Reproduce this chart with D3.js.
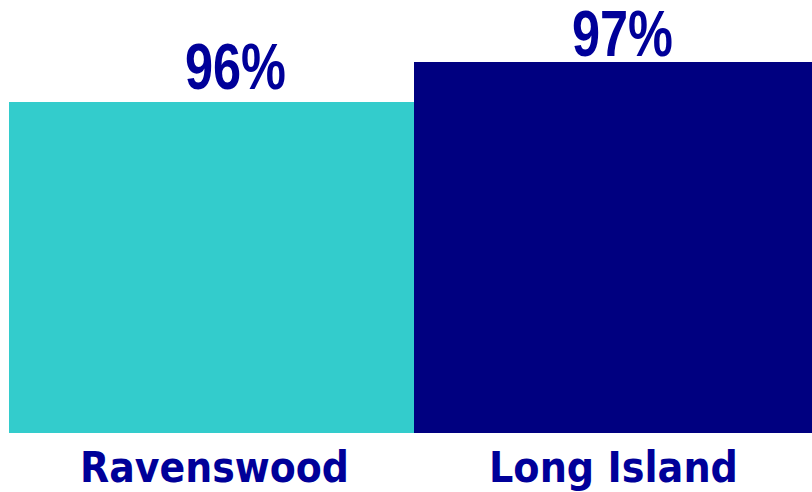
<!DOCTYPE html>
<html><head><meta charset="utf-8">
<script src="https://cdn.jsdelivr.net/npm/d3@7"></script>
<style>html,body{margin:0;padding:0;background:#fff;overflow:hidden}</style>
</head><body>
<script>
const categories = ["Ravenswood", "Long Island"];
const values = [96, 97];
const valueLabels = ["96%", "97%"];
const barColors = ["#33CCCC", "#000080"];

const W = 812, H = 492;
const svg = d3.select("body").append("svg").attr("width", W).attr("height", H);

const x = d3.scaleBand().domain(categories).range([9, 819]).padding(0);
const y = d3.scaleLinear().domain([87.725, 98]).range([433, 22]);

// layout nudges for value labels (horizontal, vertical gap above bar)
const labelDx = [24, 6];
const labelGap = [13, 6];

svg.selectAll("rect.bar").data(categories).join("rect")
  .attr("class", "bar")
  .attr("x", d => x(d))
  .attr("width", x.bandwidth())
  .attr("y", (d, i) => y(values[i]))
  .attr("height", (d, i) => y.range()[0] - y(values[i]))
  .attr("fill", (d, i) => barColors[i]);

svg.selectAll("text.val").data(categories).join("text")
  .attr("class", "val")
  .attr("x", (d, i) => x(d) + 405 / 2 + labelDx[i])
  .attr("y", (d, i) => y(values[i]) - labelGap[i])
  .attr("text-anchor", "middle")
  .attr("font-family", "'Liberation Sans Narrow', 'Arial Narrow', sans-serif")
  .attr("font-weight", "bold")
  .attr("font-size", 65)
  .attr("fill", "#000099")
  .attr("textLength", 101)
  .attr("lengthAdjust", "spacingAndGlyphs")
  .text((d, i) => valueLabels[i]);

const centers = [214.5, 613.5];
svg.selectAll("text.cat").data(categories).join("text")
  .attr("class", "cat")
  .attr("x", (d, i) => centers[i])
  .attr("y", 482)
  .attr("text-anchor", "middle")
  .attr("font-family", "'DejaVu Sans', Verdana, sans-serif")
  .attr("font-weight", "bold")
  .attr("font-size", 42)
  .attr("fill", "#000099")
  .attr("textLength", (d, i) => [269, 249][i])
  .attr("lengthAdjust", "spacingAndGlyphs")
  .text(d => d);
</script>
</body></html>
